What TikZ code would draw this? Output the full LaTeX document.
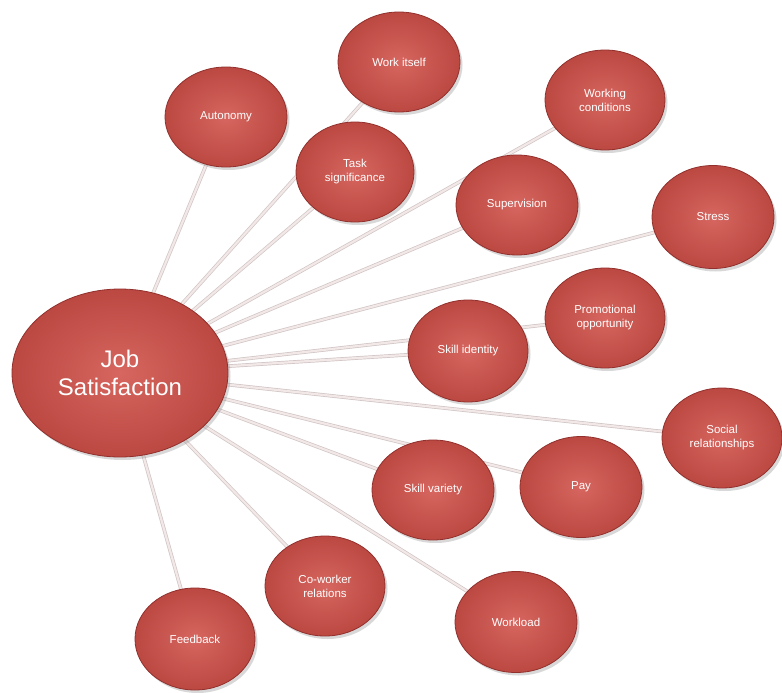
\documentclass[tikz,border=0pt]{standalone}
\usepackage{fontspec}
\setmainfont{Liberation Sans}
\usetikzlibrary{shapes.geometric,shadows,backgrounds}

\definecolor{bubbleIn}{RGB}{214,102,95}
\definecolor{bubbleOut}{RGB}{188,72,66}
\definecolor{bubbleRim}{RGB}{145,48,44}
\definecolor{linkOut}{RGB}{208,196,196}
\definecolor{linkIn}{RGB}{243,232,232}

\tikzset{
  bubble/.style={ellipse, inner sep=0pt, align=center, text=white,
    minimum width=122pt, minimum height=100pt,
    shading=radial, inner color=bubbleIn, outer color=bubbleOut,
    draw=bubbleRim, line width=0.8pt,
    drop shadow={opacity=0.3, shadow xshift=2.5pt, shadow yshift=-3pt},
    font=\fontsize{11.5}{14}\selectfont},
  hub/.style={bubble, minimum width=216pt, minimum height=168pt,
    font=\fontsize{24}{28}\selectfont},
  link/.style={draw=linkOut, double=linkIn, double distance=2.2pt, line width=0.7pt}
}

\begin{document}
\begin{tikzpicture}[x=1pt,y=-1pt]
\useasboundingbox (0,0) rectangle (782,693);

\node[hub]    (js)    at (120,373) {Job\\Satisfaction};
\node[bubble] (auto)  at (226,117) {Autonomy};
\node[bubble] (work)  at (399,62)  {Work itself};
\node[bubble, minimum width=118pt] (task) at (355,172) {Task\\significance};
\node[bubble, minimum width=120pt] (cond) at (605,100) {Working\\conditions};
\node[bubble] (sup)   at (517,205) {Supervision};
\node[bubble, minimum height=103pt] (stress) at (713,217) {Stress};
\node[bubble, minimum width=120pt] (promo) at (605,318) {Promotional\\opportunity};
\node[bubble, minimum width=120pt, minimum height=102pt] (ident) at (468,351) {Skill identity};
\node[bubble, minimum width=120pt] (social) at (722,438) {Social\\relationships};
\node[bubble] (var)   at (433,490) {Skill variety};
\node[bubble, minimum height=101pt] (pay) at (581,487) {Pay};
\node[bubble, minimum width=120pt] (cowork) at (325,586) {Co-worker\\relations};
\node[bubble, minimum width=120pt, minimum height=102pt] (feed) at (195,639) {Feedback};
\node[bubble, minimum height=101pt] (load) at (516,622) {Workload};

\begin{scope}[on background layer]
  \fill[white] (0,0) rectangle (782,693);
  \foreach \n in {auto,work,task,cond,sup,stress,promo,ident,social,var,pay,cowork,feed,load}
    \draw[link] (js.center) -- (\n.center);
\end{scope}
\end{tikzpicture}
\end{document}
